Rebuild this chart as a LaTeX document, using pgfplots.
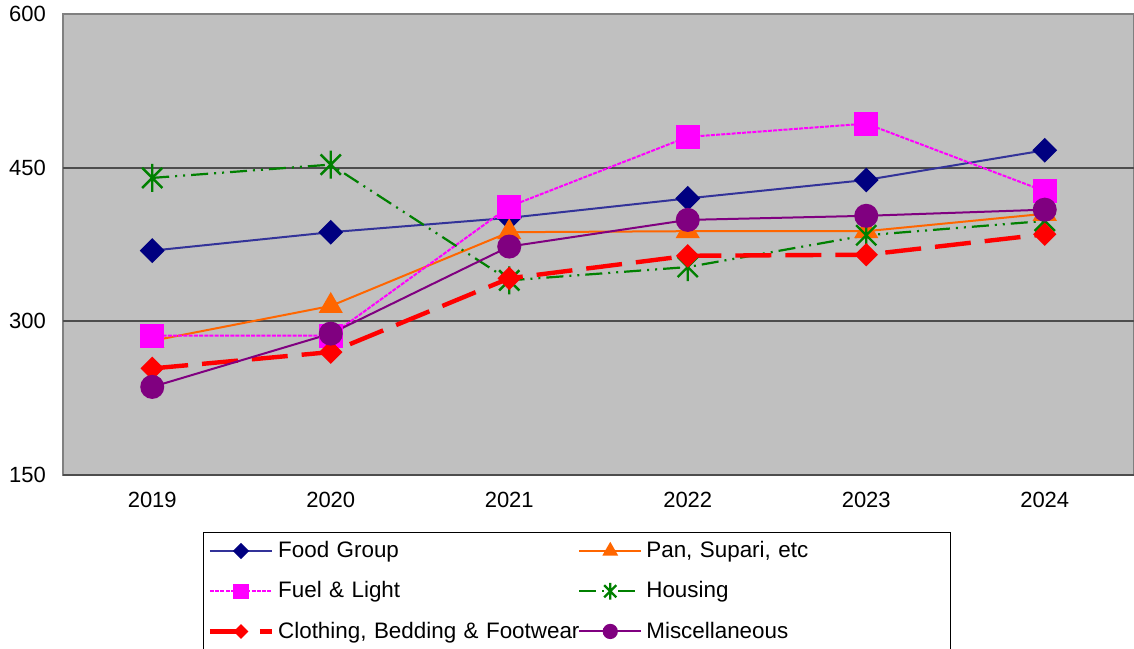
\documentclass[border=0pt]{standalone}
\usepackage{fontspec}
\setmainfont{Liberation Sans}
\usepackage{pgfplots}
\pgfplotsset{compat=1.18}

\definecolor{bggray}{HTML}{C0C0C0}
\definecolor{framegray}{HTML}{808080}
\definecolor{gridgray}{HTML}{4D4D4D}
\definecolor{foodline}{HTML}{333399}
\definecolor{foodmark}{HTML}{000080}
\definecolor{panorange}{HTML}{FF6600}
\definecolor{fuelmag}{HTML}{FF00FF}
\definecolor{housegreen}{HTML}{008000}
\definecolor{clothred}{HTML}{FF0000}
\definecolor{miscpurple}{HTML}{800080}

% excel-style star: vertical bar plus an x
\pgfdeclareplotmark{xstar}{%
  \pgfpathmoveto{\pgfqpoint{0pt}{\pgfplotmarksize}}%
  \pgfpathlineto{\pgfqpoint{0pt}{-\pgfplotmarksize}}%
  \pgfpathmoveto{\pgfqpoint{.72\pgfplotmarksize}{.72\pgfplotmarksize}}%
  \pgfpathlineto{\pgfqpoint{-.72\pgfplotmarksize}{-.72\pgfplotmarksize}}%
  \pgfpathmoveto{\pgfqpoint{-.72\pgfplotmarksize}{.72\pgfplotmarksize}}%
  \pgfpathlineto{\pgfqpoint{.72\pgfplotmarksize}{-.72\pgfplotmarksize}}%
  \pgfusepathqstroke}

\begin{document}
\begin{tikzpicture}
\useasboundingbox (-31.5pt,-86.5pt) rectangle (535.5pt,237.5pt);
\begin{axis}[
    scale only axis,
    width=535.5pt, height=230.5pt,
    xmin=-0.5, xmax=5.5,
    ymin=150, ymax=600,
    xtick={0,1,2,3,4,5},
    xticklabels={2019,2020,2021,2022,2023,2024},
    ytick={150,300,450,600},
    extra y ticks={150,300,450},
    extra y tick labels={},
    extra y tick style={grid=major},
    major grid style={gridgray, line width=1pt},
    major tick length=0pt,
    axis background/.style={fill=bggray},
    axis line style={framegray, line width=0.8pt},
    tick label style={font=\fontsize{11}{13}\selectfont},
    /pgf/number format/assume math mode=true,
    xticklabel style={yshift=-5pt},
    yticklabel style={xshift=-5pt},
    clip=false,
    legend columns=2,
    legend cell align=left,
    legend style={at={(0.48,-0.1236)}, anchor=north, draw=black, fill=white,
        font=\fontsize{11.2}{13}\selectfont, inner xsep=2pt, inner ysep=2.5pt,
        row sep=6.5pt,
        /tikz/every even column/.append style={column sep=0pt,
            every node/.append style={text width=148pt}}},
    legend image code/.code={\draw[mark repeat=2,mark phase=2]
        plot coordinates {(0pt,0pt)(15.5pt,0pt)(31pt,0pt)};},
    legend image post style={/tikz/every mark/.append style={scale=0.6}},
]
% Food Group
\addplot[color=foodline, line width=1pt, mark=square*, mark size=3.9pt,
    mark options={solid, fill=foodmark, draw=foodmark, rotate=45}]
    coordinates {(0,369) (1,387) (2,401) (3,420) (4,438) (5,467)};
\addlegendentry{Food Group}
% Pan, Supari, etc
\addplot[color=panorange, line width=1pt, mark=triangle*, mark size=6pt,
    mark options={solid, fill=panorange}]
    coordinates {(0,281) (1,315) (2,387) (3,388) (4,388) (5,405)};
\addlegendentry{Pan, Supari, etc}
% Fuel & Light
\addplot[color=fuelmag, line width=1pt, dash pattern=on 2pt off 0.6pt,
    mark=square*, mark size=5.5pt, mark options={solid, fill=fuelmag}]
    coordinates {(0,286) (1,286) (2,412) (3,480) (4,493) (5,427)};
\addlegendentry{Fuel \& Light}
% Housing
\addplot[color=housegreen, line width=1.1pt,
    dash pattern=on 8.5pt off 3pt on 1pt off 3pt on 1pt off 3pt,
    mark=xstar, mark size=7pt, mark options={solid, line width=1.2pt}]
    coordinates {(0,440) (1,453) (2,340) (3,353) (4,384) (5,398)};
\addlegendentry{Housing}
% Clothing, Bedding & Footwear
\addplot[color=clothred, line width=2.2pt, dash pattern=on 18pt off 7pt,
    mark=square*, mark size=3.9pt,
    mark options={solid, fill=clothred, rotate=45, line width=0.5pt}]
    coordinates {(0,254) (1,270) (2,342) (3,364) (4,365) (5,385)};
\addlegendentry{\mbox{Clothing, Bedding \& Footwear}}
% Miscellaneous
\addplot[color=miscpurple, line width=1pt, mark=*, mark size=5.5pt,
    mark options={solid, fill=miscpurple}]
    coordinates {(0,236) (1,288) (2,373) (3,399) (4,403) (5,409)};
\addlegendentry{Miscellaneous}
\end{axis}
\end{tikzpicture}
\end{document}
